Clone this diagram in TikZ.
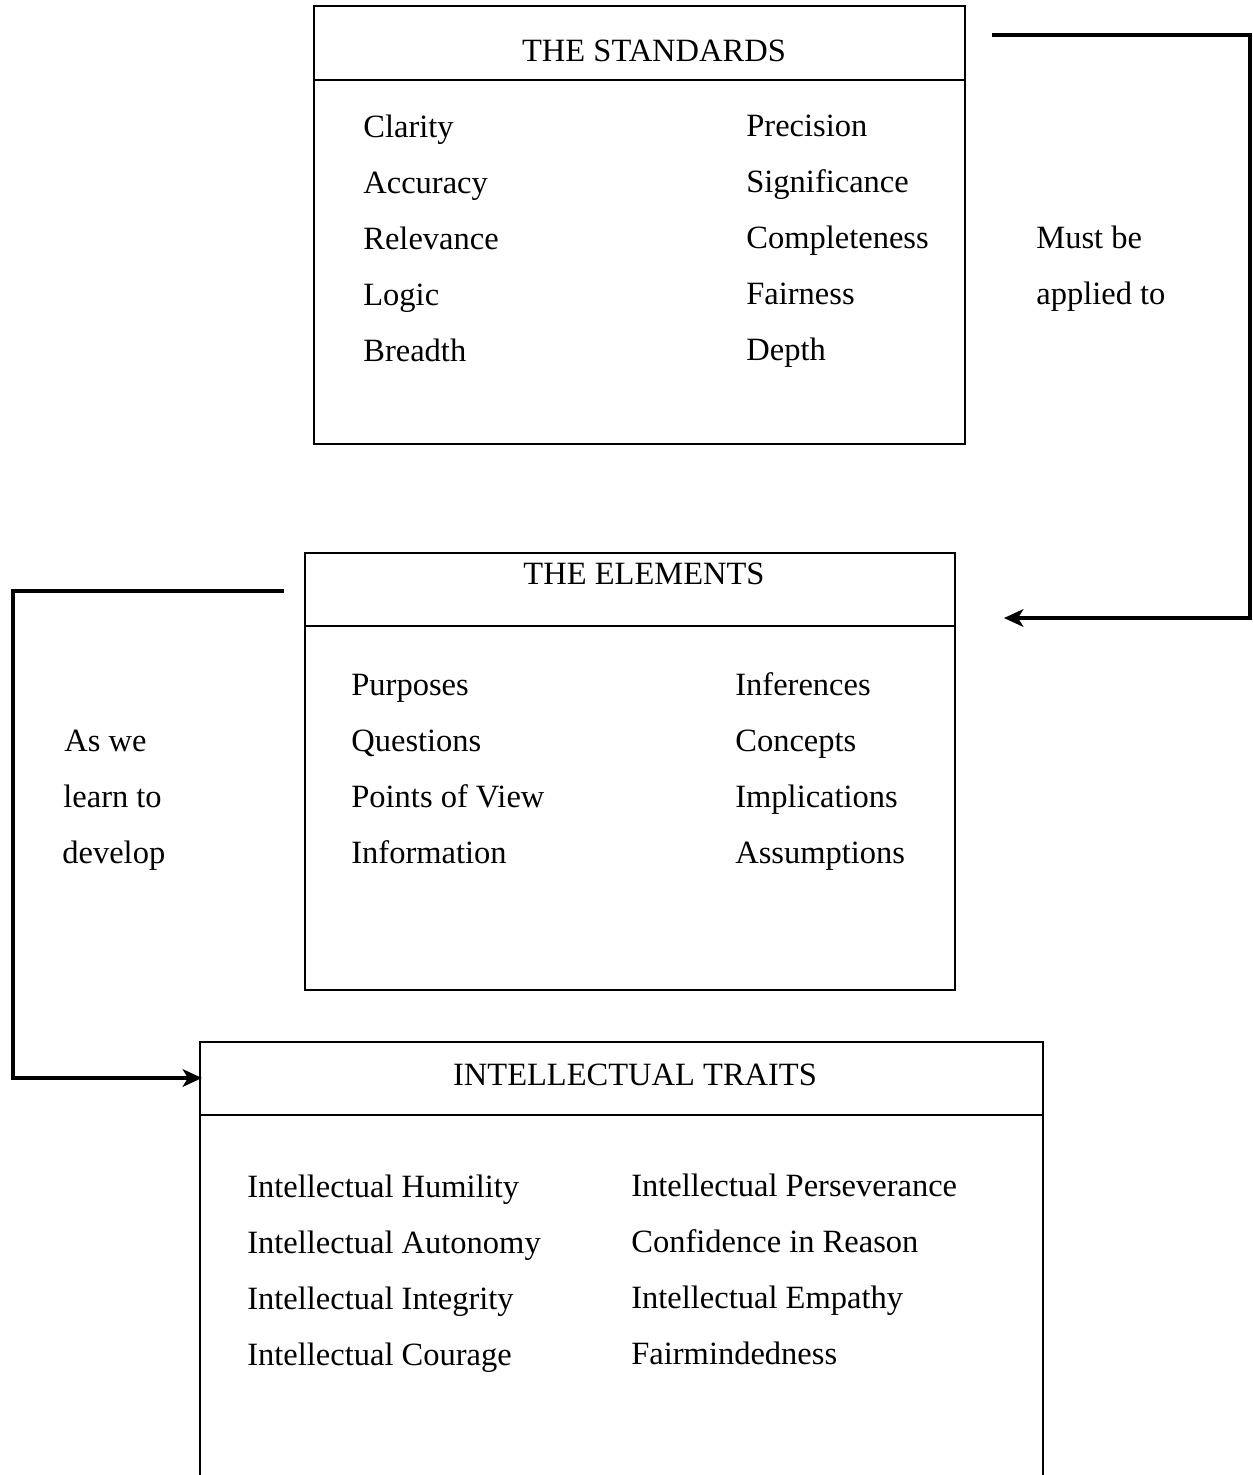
\documentclass[tikz,border=0pt]{standalone}
\usepackage{fontspec}
\setmainfont{Liberation Serif}
\usetikzlibrary{arrows.meta}
\tikzset{
  box/.style={draw, line width=1pt},
  item/.style={anchor=west, inner sep=0pt, text height=0.7em, text depth=0.2em, font=\fontsize{18.5}{22}\selectfont},
  title/.style={item, anchor=center},
  link/.style={line width=2pt, -{Stealth[length=11pt,width=10pt,inset=3pt]}},
}
\begin{document}
\begin{tikzpicture}[x=0.02cm,y=-0.02cm]
\useasboundingbox (0,0) rectangle (1253,1475);
\clip (0,0) rectangle (1253,1475);

% the standards
\draw[box] (314,6) rectangle (965,444);
\draw[box] (314,80) -- (965,80);
\node[title] (std) at (654,57) {THE STANDARDS};
\foreach \t [count=\i] in {Clarity,Accuracy,Relevance,Logic,Breadth}
  \node[item] (stdL\i) at (363,77+56*\i) {\t};
\foreach \t [count=\i] in {Precision,Significance,Completeness,Fairness,Depth}
  \node[item] (stdR\i) at (746,76+56*\i) {\t};

% the elements
\draw[box] (305,553) rectangle (955,990);
\draw[box] (305,626) -- (955,626);
\node[title] (elm) at (644,580) {THE ELEMENTS};
\foreach \t [count=\i] in {Purposes,Questions,Points of View,Information}
  \node[item] (elmL\i) at (351,635+56*\i) {\t};
\foreach \t [count=\i] in {Inferences,Concepts,Implications,Assumptions}
  \node[item] (elmR\i) at (735,635+56*\i) {\t};

% intellectual traits, box runs off the page
\draw[box] (200,1042) rectangle (1043,1520);
\draw[box] (200,1115) -- (1043,1115);
\node[title] (trt) at (635,1081) {INTELLECTUAL TRAITS};
\foreach \t [count=\i] in {Intellectual Humility,Intellectual Autonomy,Intellectual Integrity,Intellectual Courage}
  \node[item] (trtL\i) at (247,1137+56*\i) {\t};
\foreach \t [count=\i] in {Intellectual Perseverance,Confidence in Reason,Intellectual Empathy,Fairmindedness}
  \node[item] (trtR\i) at (631,1136+56*\i) {\t};

% standards -> elements
\coordinate (a1) at (992,35);
\coordinate (a2) at (1250,35);
\coordinate (a3) at (1004,618);
\draw[link] (a1) -- (a2) |- (a3);
\node[item] (must) at (1036,244) {Must be};
\node[item] (appl) at (1036,300) {applied to};

% elements -> traits
\coordinate (b1) at (284,591);
\coordinate (b2) at (13,591);
\coordinate (b3) at (202,1078);
\draw[link] (b1) -- (b2) |- (b3);
\node[item] (as) at (64,747) {As we};
\node[item] (learn) at (63,803) {learn to};
\node[item] (dev) at (62,859) {develop};
\end{tikzpicture}
\end{document}
